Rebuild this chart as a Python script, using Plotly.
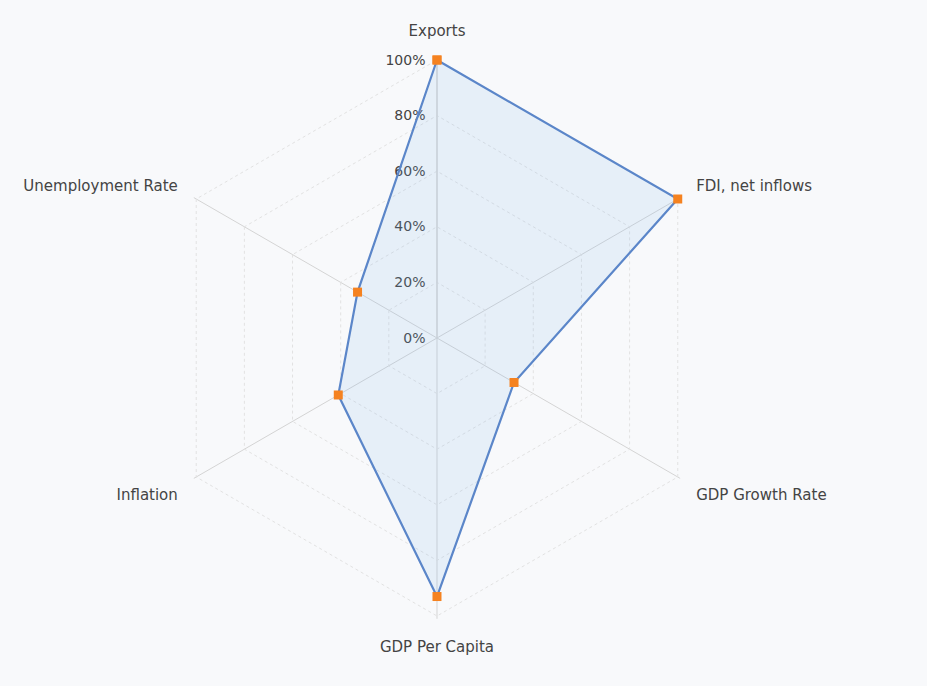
import plotly.graph_objects as go

# Indicator scores, percent of the maximum
categories = ["Exports", "FDI, net inflows", "GDP Growth Rate",
              "GDP Per Capita", "Inflation", "Unemployment Rate"]
scores = [100, 100, 32, 93, 41, 33]
tick_values = [0, 20, 40, 60, 80, 100]
tick_labels = ["0%", "20%", "40%", "60%", "80%", "100%"]

fig = go.Figure()
fig.add_trace(go.Scatterpolar(
    r=scores + scores[:1],
    theta=categories + categories[:1],
    mode="lines+markers",
    fill="toself",
    fillcolor="rgba(130,180,235,0.15)",
    line=dict(color="#5b86c9", width=2.2),
    marker=dict(symbol="square", size=9, color="#f58220"),
    cliponaxis=False,
    hoverinfo="r+theta",
))

fig.update_layout(
    width=927, height=686,
    margin=dict(l=0, r=0, t=0, b=0),
    paper_bgcolor="#f8f9fb",
    plot_bgcolor="#f8f9fb",
    showlegend=False,
    font=dict(family="DejaVu Sans", size=15, color="#444444"),
    polar=dict(
        domain=dict(x=[0.1685, 0.7743], y=[0.098, 0.9166]),
        bgcolor="rgba(0,0,0,0)",
        gridshape="linear",
        angularaxis=dict(
            rotation=90, direction="clockwise",
            showline=False,
            gridcolor="#d4d4d4", gridwidth=1.3,
            tickfont=dict(size=15, color="#444444"),
            ticks="outside", ticklen=15, tickcolor="rgba(0,0,0,0)",
            layer="below traces",
        ),
        radialaxis=dict(
            range=[0, 101], angle=90, tickangle=90,
            tickvals=tick_values, ticktext=tick_labels,
            side="counterclockwise",
            showline=True, linecolor="#d6d6d6", linewidth=1.3,
            gridcolor="#e2e2e2", gridwidth=1, griddash="dot",
            tickfont=dict(size=14, color="#444444"),
            ticks="outside", ticklen=6, tickcolor="rgba(0,0,0,0)",
            layer="below traces",
        ),
    ),
)

fig.write_html("out.html")
